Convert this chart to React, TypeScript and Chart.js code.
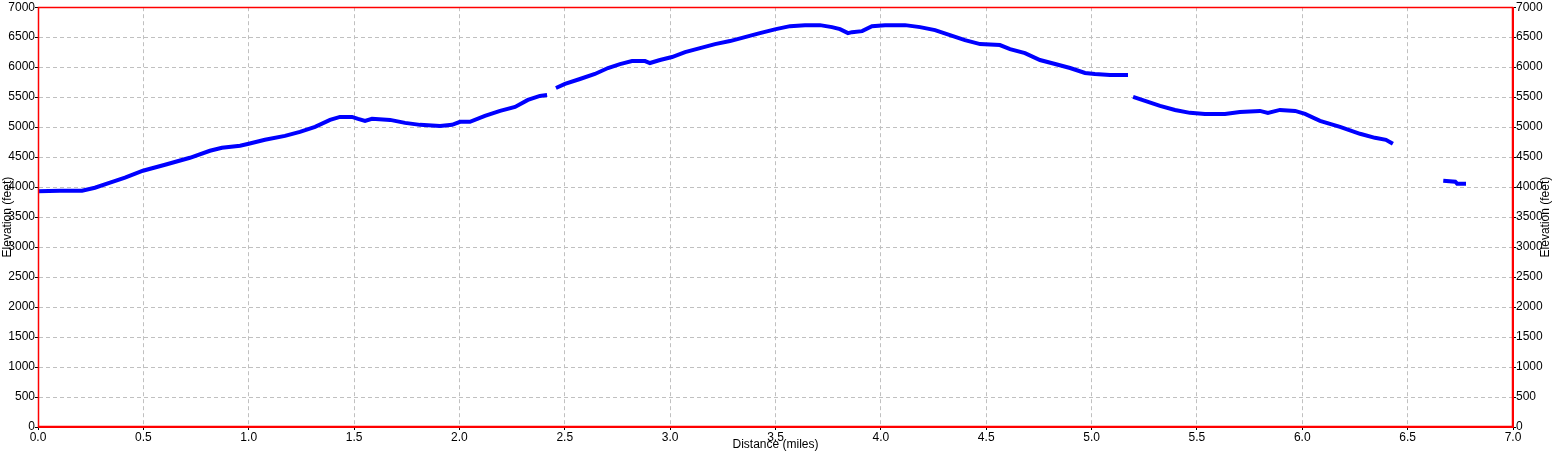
import React, { useEffect, useRef } from "react";
import { Chart, registerables } from "chart.js";

Chart.register(...registerables);

// Distance along the track (miles); null elevation marks a gap in the record
const distances: number[] = [
  0.0, 0.104, 0.209, 0.27, 0.342, 0.413, 0.498, 0.603, 0.721, 0.816, 0.873, 0.959, 1.0, 1.077, 1.172,
  1.243, 1.315, 1.386, 1.433, 1.49, 1.519, 1.552, 1.585, 1.671, 1.742, 1.813, 1.908, 1.965, 2.003, 2.05,
  2.121, 2.193, 2.264, 2.325, 2.382, 2.416,
  2.437,
  2.458, 2.501, 2.572, 2.643, 2.705, 2.762, 2.819, 2.881, 2.904, 2.952, 3.009, 3.071, 3.142, 3.213,
  3.284, 3.355, 3.426, 3.502, 3.569, 3.64, 3.711, 3.768, 3.806, 3.844, 3.863, 3.911, 3.958, 4.02, 4.115,
  4.186, 4.257, 4.328, 4.399, 4.471, 4.565, 4.613, 4.684, 4.755, 4.827, 4.898, 4.969, 5.016, 5.087, 5.173,
  5.185,
  5.197, 5.254, 5.325, 5.396, 5.467, 5.538, 5.633, 5.704, 5.799, 5.837, 5.894, 5.966, 6.013, 6.084,
  6.179, 6.274, 6.345, 6.397, 6.43,
  6.55,
  6.669, 6.726, 6.735, 6.777,
];

// Elevation (feet)
const elevations: (number | null)[] = [
  3930, 3941, 3940, 3990, 4074, 4157, 4273, 4373, 4489, 4606, 4656, 4689, 4722, 4789, 4855,
  4922, 5005, 5121, 5171, 5171, 5138, 5105, 5138, 5121, 5071, 5038, 5021, 5038, 5088, 5088,
  5188, 5271, 5337, 5454, 5520, 5537,
  null,
  5653, 5720, 5803, 5886, 5986, 6052, 6102, 6102, 6069, 6119, 6169, 6252, 6318, 6385,
  6435, 6501, 6568, 6634, 6684, 6701, 6701, 6668, 6634, 6568, 6584, 6601, 6684, 6701, 6701,
  6668, 6618, 6535, 6452, 6385, 6368, 6302, 6235, 6119, 6052, 5986, 5903, 5886, 5870, 5870,
  null,
  5504, 5437, 5354, 5287, 5238, 5221, 5221, 5254, 5271, 5238, 5287, 5271, 5221, 5105,
  5005, 4889, 4822, 4789, 4722,
  null,
  4107, 4090, 4057, 4057,
];

const xTitle = "Distance (miles)";
const yTitle = "Elevation (feet)";
const xMin = 0;
const xMax = 7;
const xStep = 0.5;
const yMin = 0;
const yMax = 7000;
const yStep = 500;

const FONT = "'Liberation Sans', Arial, sans-serif";

const framePlugin = {
  id: "frame",
  afterDraw(chart: any) {
    const { ctx, chartArea } = chart;
    const l = Math.round(chartArea.left) + 0.5;
    const r = Math.round(chartArea.right) - 0.5;
    const t = Math.round(chartArea.top) + 0.5;
    const b = Math.round(chartArea.bottom) - 0.5;
    ctx.save();
    ctx.setLineDash([]);
    ctx.strokeStyle = "#ff0000";
    ctx.lineWidth = 1.5;
    ctx.beginPath();
    ctx.moveTo(l, t);
    ctx.lineTo(r, t);
    ctx.lineTo(r, b);
    ctx.lineTo(l, b);
    ctx.closePath();
    ctx.stroke();
    // right axis title, reading bottom-to-top like the left one
    ctx.fillStyle = "#000000";
    ctx.font = `12px ${FONT}`;
    ctx.textAlign = "center";
    ctx.textBaseline = "middle";
    ctx.translate(chart.width - 7, (chartArea.top + chartArea.bottom) / 2);
    ctx.rotate(-Math.PI / 2);
    ctx.fillText(yTitle, 0, 0);
    ctx.restore();
  },
};

export default function App() {
  const ref = useRef<HTMLCanvasElement | null>(null);

  useEffect(() => {
    if (!ref.current) return;
    const points = distances.map((d, i) => ({ x: d, y: elevations[i] }));
    const tickFont = { family: FONT, size: 12 };
    const chart = new Chart(ref.current, {
      type: "line",
      data: {
        datasets: [
          {
            data: points as any,
            borderColor: "#0000ff",
            borderWidth: 4,
            pointRadius: 0,
            spanGaps: false,
            tension: 0,
            fill: false,
          },
        ],
      },
      options: {
        responsive: false,
        animation: false,
        layout: { padding: { top: 6, left: 0, right: 0, bottom: 0 } },
        plugins: {
          legend: { display: false },
          tooltip: { enabled: false },
        },
        scales: {
          x: {
            type: "linear",
            min: xMin,
            max: xMax,
            ticks: {
              stepSize: xStep,
              color: "#000000",
              font: tickFont,
              padding: 0,
              maxRotation: 0,
              autoSkip: false,
              callback: (v: any) => Number(v).toFixed(1),
            },
            grid: {
              color: "#c0c0c0",
              tickColor: "#000000",
              tickLength: 3,
            },
            border: { color: "#ff0000", dash: [4, 3] },
            title: {
              display: true,
              text: xTitle,
              color: "#000000",
              font: tickFont,
              padding: 0,
            },
            afterFit: (scale: any) => {
              scale.height = 25;
            },
          },
          y: {
            type: "linear",
            position: "left",
            min: yMin,
            max: yMax,
            ticks: {
              stepSize: yStep,
              color: "#000000",
              font: tickFont,
              padding: 0,
              autoSkip: false,
              callback: (v: any) => String(v),
            },
            grid: {
              color: "#c0c0c0",
              tickColor: "#000000",
              tickLength: 3,
            },
            border: { color: "#ff0000", dash: [4, 3] },
            title: {
              display: true,
              text: yTitle,
              color: "#000000",
              font: tickFont,
              padding: 0,
            },
            afterFit: (scale: any) => {
              scale.width = 38;
            },
          },
          y2: {
            type: "linear",
            position: "right",
            min: yMin,
            max: yMax,
            ticks: {
              stepSize: yStep,
              color: "#000000",
              font: tickFont,
              padding: 0,
              autoSkip: false,
              callback: (v: any) => String(v),
            },
            grid: {
              drawOnChartArea: false,
              tickColor: "#000000",
              tickLength: 3,
            },
            border: { color: "#ff0000" },
            afterFit: (scale: any) => {
              scale.width = 40;
            },
          },
        },
      },
      plugins: [framePlugin],
    });
    return () => chart.destroy();
  }, []);

  return (
    <div style={{ position: "absolute", left: 0, top: 0, width: 1553, height: 452, background: "#ffffff" }}>
      <canvas ref={ref} width={1553} height={452} style={{ display: "block" }} />
    </div>
  );
}
